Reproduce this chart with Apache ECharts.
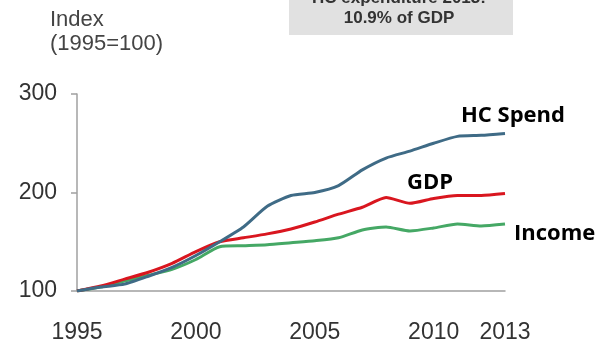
<!DOCTYPE html>
<html>
<head>
<meta charset="utf-8">
<script src="https://cdn.jsdelivr.net/npm/echarts@6/dist/echarts.min.js"></script>
<style>
  html, body { margin: 0; padding: 0; background: #fff; }
  #main { width: 599px; height: 344px; }
</style>
</head>
<body>
<div id="main"></div>
<script>
// years and index values (1995 = 100)
var years = [1995, 1996, 1997, 1998, 1999, 2000, 2001, 2002, 2003, 2004,
             2005, 2006, 2007, 2008, 2009, 2010, 2011, 2012, 2013];
var hcSpend = [100, 104, 107, 115, 124, 136, 150, 165, 186, 197,
               200, 207, 223, 235, 242, 250, 257, 258, 260];
var gdp = [100, 105, 112, 119, 128, 140, 150, 154, 158, 163,
           170, 178, 185, 195, 189, 194, 197, 197, 199];
var income = [100, 104, 110, 116, 122, 132, 145, 146, 147, 149,
              151, 154, 162, 165, 161, 164, 168, 166, 168];
var yearTicks = [1995, 2000, 2005, 2010, 2013];

var axisFont = 'Liberation Sans';
var tagFont = 'Open Sans';
var myChart = echarts.init(document.getElementById('main'));

function pairs(vals) {
    var res = [];
    for (var i = 0; i < years.length; i++) {
        res.push([years[i], vals[i]]);
    }
    return res;
}

function tag(txt, x, y) {
    return {
        type: 'text',
        x: x,
        y: y,
        style: {
            text: txt,
            fontSize: 22,
            fontWeight: 'bold',
            fill: '#000',
            verticalAlign: 'middle',
            fontFamily: tagFont
        }
    };
}

var option = {
    animation: false,
    grid: { left: 77, right: 94, top: 94, bottom: 52 },
    xAxis: {
        type: 'value',
        min: 1995,
        max: 2013,
        interval: 1,
        axisLine: { show: true, lineStyle: { color: '#a0a0a0', width: 1.5 } },
        axisTick: { show: false },
        splitLine: { show: false },
        axisLabel: {
            margin: 30,
            fontSize: 23,
            color: '#333',
            fontFamily: axisFont,
            showMaxLabel: true,
            formatter: function (v) {
                return yearTicks.indexOf(v) >= 0 ? String(v) : '';
            }
        }
    },
    yAxis: {
        type: 'value',
        min: 100,
        max: 300,
        interval: 100,
        axisLine: { show: true, lineStyle: { color: '#a0a0a0', width: 1.5 } },
        axisTick: { show: true, length: 6, lineStyle: { color: '#a0a0a0', width: 1.5 } },
        splitLine: { show: false },
        axisLabel: {
            margin: 20,
            fontSize: 23,
            color: '#333',
            fontFamily: axisFont
        }
    },
    series: [{
        name: 'HC Spend',
        type: 'line',
        data: pairs(hcSpend),
        symbol: 'none',
        smooth: 0.2,
        lineStyle: { color: '#3f6b86', width: 3 },
        z: 3
    }, {
        name: 'GDP',
        type: 'line',
        data: pairs(gdp),
        symbol: 'none',
        smooth: 0.2,
        lineStyle: { color: '#d9161f', width: 3 },
        z: 2
    }, {
        name: 'Income',
        type: 'line',
        data: pairs(income),
        symbol: 'none',
        smooth: 0.2,
        lineStyle: { color: '#45a865', width: 3 },
        z: 1
    }],
    graphic: [{
        type: 'text',
        left: 50,
        top: 8,
        style: {
            text: 'Index\n(1995=100)',
            fontSize: 22,
            lineHeight: 24,
            fill: '#444',
            fontFamily: axisFont
        }
    }, {
        type: 'rect',
        shape: { x: 289, y: -10, width: 224, height: 45 },
        style: { fill: '#e1e1e1' }
    }, {
        type: 'text',
        x: 399,
        y: 8,
        style: {
            text: 'HC expenditure 2013:\n10.9% of GDP',
            fontSize: 17,
            lineHeight: 20,
            fontWeight: 'bold',
            fill: '#333',
            align: 'center',
            verticalAlign: 'middle',
            fontFamily: axisFont
        }
    },
    tag('HC Spend', 461, 116),
    tag('GDP', 407, 183),
    tag('Income', 514, 234)]
};

myChart.setOption(option);
</script>
</body>
</html>
